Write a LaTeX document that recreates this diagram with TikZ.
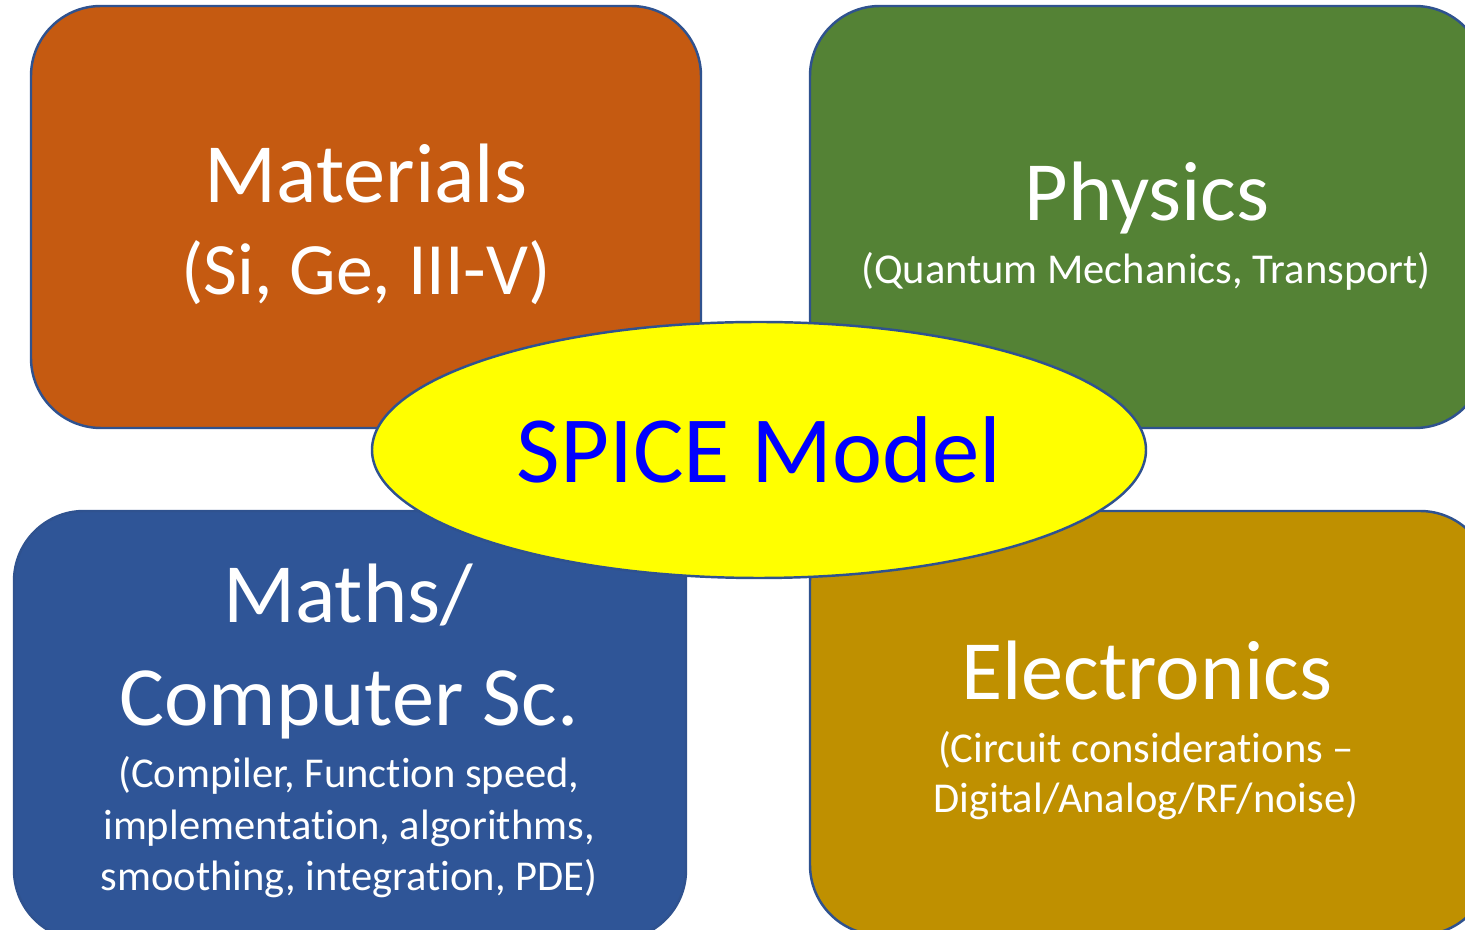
\documentclass[tikz,border=0pt]{standalone}
\usepackage{fontspec}
\setmainfont[Ligatures=NoCommon]{Carlito}
\usetikzlibrary{shapes.geometric}
\definecolor{matorange}{HTML}{C55A11}
\definecolor{phygreen}{HTML}{548235}
\definecolor{mathblue}{HTML}{2F5597}
\definecolor{elecgold}{HTML}{BF9000}
\definecolor{edgeblue}{HTML}{2F528F}
\definecolor{spiceblue}{HTML}{0000FF}
\definecolor{hubyellow}{HTML}{FFFF00}
\tikzset{
    box/.style =    {rectangle,
                    rounded corners=0.7cm,
                    draw=edgeblue,
                    line width=0.7pt,
                    inner sep=0pt},
    hub/.style =    {ellipse,
                    fill=hubyellow,
                    draw=edgeblue,
                    line width=0.7pt,
                    text=spiceblue,
                    inner sep=0pt,
                    font=\fontsize{27}{32}\selectfont},
    head/.style =   {text=white,
                    anchor=base,
                    inner sep=0pt,
                    font=\fontsize{24}{28}\selectfont},
    mid/.style =    {head,
                    font=\fontsize{21}{25}\selectfont},
    sub/.style =    {text=white,
                    anchor=base,
                    inner sep=0pt,
                    font=\fontsize{12.1}{14}\selectfont}}

\begin{document}
\begin{tikzpicture}
                \useasboundingbox (0,0) rectangle (14.65,-9.30);
                \clip (0,0) rectangle (14.65,-9.30);
                % the four fields
                \node[box, fill=matorange, minimum width=6.70cm, minimum height=4.22cm] (mat) at (3.66,-2.17) {};
                \node[box, fill=phygreen, minimum width=6.75cm, minimum height=4.22cm] (phy) at (11.475,-2.17) {};
                \node[box, fill=mathblue, minimum width=6.72cm, minimum height=4.29cm] (math) at (3.50,-7.255) {};
                \node[box, fill=elecgold, minimum width=6.80cm, minimum height=4.24cm] (elec) at (11.50,-7.23) {};
                % texts
                \node[head] (matA) at (3.66,-2.03) {Materials};
                \node[mid]  (matB) at (3.66,-2.95) {(Si, Ge, III-V)};
                \node[head] (phyA) at (11.47,-2.21) {Physics};
                \node[sub]  (phyB) at (11.46,-2.84) {(Quantum Mechanics, Transport)};
                \node[head] (mathA) at (3.48,-6.23) {Maths/};
                \node[head] (mathB) at (3.49,-7.26) {Computer Sc.};
                \node[sub]  (mathC) at (3.49,-7.88) {(Compiler, Function speed,};
                \node[sub]  (mathD) at (3.49,-8.40) {implementation, algorithms,};
                \node[sub]  (mathE) at (3.49,-8.91) {smoothing, integration, PDE)};
                \node[head] (elecA) at (11.47,-7.00) {Electronics};
                \node[sub]  (elecB) at (11.46,-7.63) {(Circuit considerations --};
                \node[sub]  (elecC) at (11.46,-8.13) {Digital/Analog/RF/noise)};
                % the model in the middle
                \node[hub, minimum width=7.74cm, minimum height=2.56cm] (spice) at (7.59,-4.50) {SPICE Model};
        \end{tikzpicture}
\end{document}
